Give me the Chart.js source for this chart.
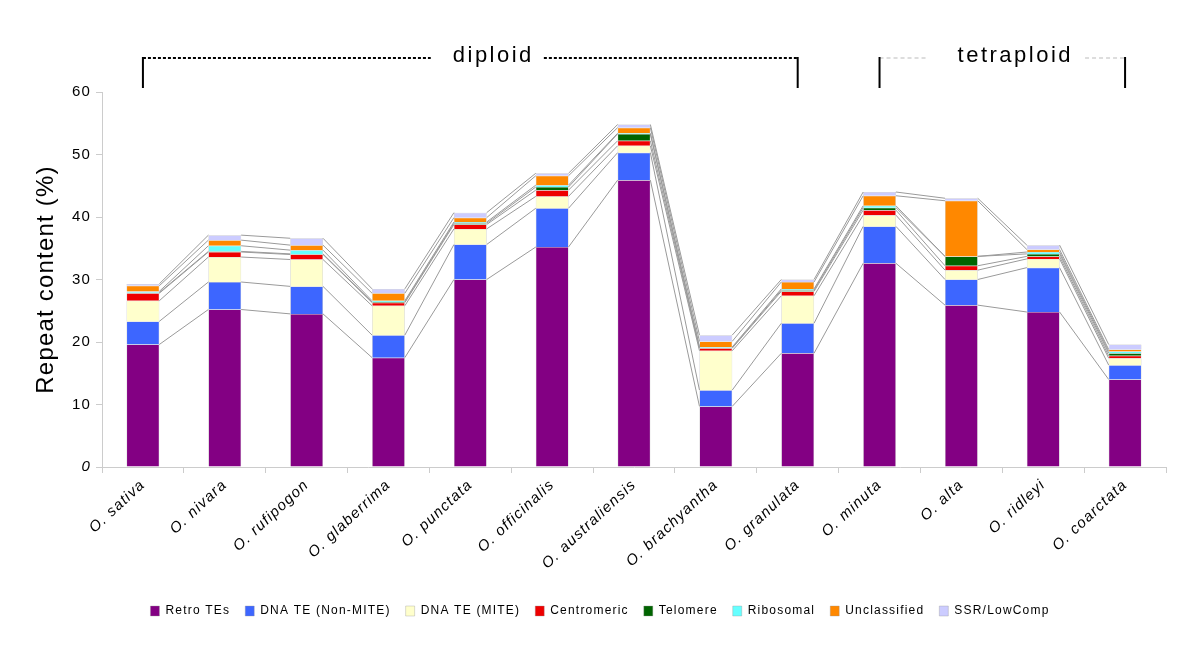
<!DOCTYPE html>
<html>
<head>
<meta charset="utf-8">
<script src="https://cdn.jsdelivr.net/npm/chart.js@4"></script>
<style>
html, body { margin: 0; padding: 0; background: #fff; }
#wrap { width: 1200px; height: 654px; }
</style>
</head>
<body>
<div id="wrap"><canvas id="chart"></canvas></div>
<script>
// species on the x axis
const species = ["O. sativa", "O. nivara", "O. rufipogon", "O. glaberrima", "O. punctata",
    "O. officinalis", "O. australiensis", "O. brachyantha", "O. granulata",
    "O. minuta", "O. alta", "O. ridleyi", "O. coarctata"];

// repeat content (% of genome)
const retroTEs     = [19.6, 25.2, 24.5, 17.5, 30.0, 35.2, 45.9, 9.7, 18.2, 32.6, 25.9, 24.8, 14.0];
const dnaNonMite   = [3.7, 4.4, 4.4, 3.6, 5.6, 6.2, 4.4, 2.6, 4.8, 5.9, 4.1, 7.1, 2.3];
const dnaMite      = [3.3, 4.0, 4.3, 4.7, 2.5, 1.9, 1.1, 6.3, 4.4, 1.8, 1.5, 1.4, 1.1];
const centromeric  = [1.2, 0.8, 0.8, 0.5, 0.7, 1.0, 0.8, 0.4, 0.7, 0.8, 0.7, 0.4, 0.4];
const telomere     = [0.1, 0.1, 0.1, 0.1, 0.2, 0.5, 1.1, 0.1, 0.2, 0.4, 1.5, 0.4, 0.4];
const ribosomal    = [0.2, 0.9, 0.6, 0.2, 0.2, 0.3, 0.1, 0.1, 0.2, 0.3, 0.0, 0.3, 0.3];
const unclassified = [0.9, 0.9, 0.8, 1.2, 0.7, 1.5, 0.9, 0.9, 1.1, 1.6, 8.9, 0.4, 0.3];
const ssrLowComp   = [0.3, 0.8, 1.1, 0.7, 0.8, 0.4, 0.5, 1.0, 0.4, 0.6, 0.4, 0.7, 0.8];

const yTicks = [0, 10, 20, 30, 40, 50, 60];

// ploidy groups drawn above the bars (category index range)
const groups = [
    { label: "diploid", from: 0, to: 8 },
    { label: "tetraploid", from: 9, to: 12 }
];

const font = "'Liberation Sans', Arial, sans-serif";

function series(label, data, color) {
    return {
        label: label,
        data: data,
        backgroundColor: color,
        borderColor: "rgba(150,150,150,0.7)",
        borderWidth: 0.5,
        categoryPercentage: 0.8,
        barPercentage: 0.5
    };
}

// a bit of extra spacing between letters, like the original
const letterSpacing = {
    id: "letterSpacing",
    beforeLayout(chart) { chart.ctx.letterSpacing = "1.2px"; },
    beforeDraw(chart) { chart.ctx.letterSpacing = "1.2px"; }
};

// grey lines joining the tops of the same series between neighbouring bars
const seriesLines = {
    id: "seriesLines",
    afterDatasetsDraw(chart) {
        const ctx = chart.ctx;
        ctx.save();
        ctx.strokeStyle = "#9a9a9a";
        ctx.lineWidth = 1;
        chart.data.datasets.forEach((ds, d) => {
            const bars = chart.getDatasetMeta(d).data;
            for (let i = 0; i < bars.length - 1; i++) {
                const a = bars[i], b = bars[i + 1];
                ctx.beginPath();
                ctx.moveTo(a.x + a.width / 2, a.y);
                ctx.lineTo(b.x - b.width / 2, b.y);
                ctx.stroke();
            }
        });
        ctx.restore();
    }
};

// brackets "diploid" / "tetraploid" over the bars
const brackets = {
    id: "brackets",
    afterDraw(chart) {
        const ctx = chart.ctx;
        const x = chart.scales.x;
        const lineY = 58, tickBottom = 88;
        const styles = [
            { dash: [3, 2], color: "#000", width: 2, shift: 23, gapL: 22, gapR: 10 },
            { dash: [4, 3], color: "#bbb", width: 1, shift: 13, gapL: 30, gapR: 12 }
        ];
        groups.forEach((g, k) => {
            const s = styles[k];
            const x1 = x.getPixelForValue(g.from);
            const x2 = x.getPixelForValue(g.to);
            const cx = (x1 + x2) / 2 + s.shift;
            ctx.save();
            ctx.font = "22px " + font;
            ctx.letterSpacing = "2.5px";
            const w = ctx.measureText(g.label).width;
            ctx.fillStyle = "#000";
            ctx.textAlign = "center";
            ctx.textBaseline = "middle";
            ctx.fillText(g.label, cx, lineY - 2);

            ctx.setLineDash(s.dash);
            ctx.strokeStyle = s.color;
            ctx.lineWidth = s.width;
            ctx.beginPath();
            ctx.moveTo(x1, lineY);
            ctx.lineTo(cx - w / 2 - s.gapL, lineY);
            ctx.moveTo(cx + w / 2 + s.gapR, lineY);
            ctx.lineTo(x2, lineY);
            ctx.stroke();

            ctx.setLineDash([]);
            ctx.strokeStyle = "#000";
            ctx.lineWidth = 2;
            ctx.beginPath();
            ctx.moveTo(x1, lineY - 1);
            ctx.lineTo(x1, tickBottom);
            ctx.moveTo(x2, lineY - 1);
            ctx.lineTo(x2, tickBottom);
            ctx.stroke();
            ctx.restore();
        });
    }
};

new Chart(document.getElementById("chart"), {
    type: "bar",
    data: {
        labels: species,
        datasets: [
            series("Retro TEs", retroTEs, "#830083"),
            series("DNA TE (Non-MITE)", dnaNonMite, "#3d66ff"),
            series("DNA TE (MITE)", dnaMite, "#ffffcc"),
            series("Centromeric", centromeric, "#ee0000"),
            series("Telomere", telomere, "#006400"),
            series("Ribosomal", ribosomal, "#66ffff"),
            series("Unclassified", unclassified, "#ff8800"),
            series("SSR/LowComp", ssrLowComp, "#ccccff")
        ]
    },
    options: {
        responsive: true,
        maintainAspectRatio: false,
        animation: false,
        layout: { padding: { top: 92, right: 34, bottom: 27, left: 34 } },
        plugins: {
            tooltip: { enabled: false },
            legend: {
                position: "bottom",
                labels: {
                    boxWidth: 9,
                    boxHeight: 10,
                    padding: 15,
                    color: "#000",
                    font: { family: font, size: 12 }
                }
            }
        },
        scales: {
            x: {
                stacked: true,
                grid: { drawOnChartArea: false, tickLength: 6, color: "#cccccc" },
                border: { color: "#cccccc" },
                ticks: {
                    autoSkip: false,
                    minRotation: 43,
                    maxRotation: 43,
                    color: "#000",
                    font: { family: font, size: 15, style: "italic" }
                },
                afterFit(scale) { scale.height = 123; }
            },
            y: {
                stacked: true,
                min: 0,
                max: 60,
                afterBuildTicks(scale) { scale.ticks = yTicks.map(v => ({ value: v })); },
                grid: { drawOnChartArea: false, tickLength: 6, color: "#cccccc" },
                border: { color: "#cccccc" },
                ticks: {
                    padding: 5,
                    color: "#000",
                    font: (c) => ({ family: font, size: 15, style: c.tick && c.tick.value === 0 ? "italic" : "normal" })
                },
                title: {
                    display: true,
                    text: "Repeat content (%)",
                    color: "#000",
                    font: { family: font, size: 24 },
                    padding: { top: -2, bottom: 0 }
                },
                afterFit(scale) { scale.width = 68; }
            }
        }
    },
    plugins: [letterSpacing, seriesLines, brackets]
});
</script>
</body>
</html>
